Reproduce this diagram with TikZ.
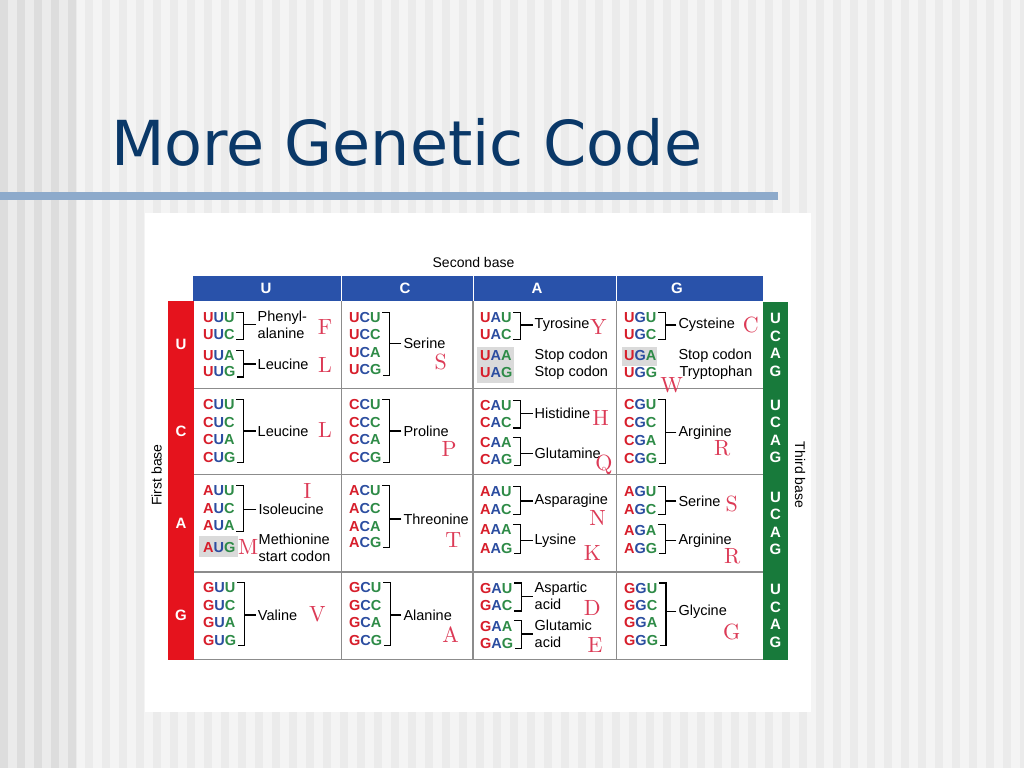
\documentclass[tikz,border=0pt]{standalone}
\usepackage{fontspec}
\setsansfont{Liberation Sans}
\newfontfamily\titlefont{DejaVu Sans}
\newfontfamily\letfont{lmroman10-regular}[Extension=.otf]
\definecolor{bgbase}{HTML}{F4F4F4}
\definecolor{bgstripe}{HTML}{EBEBEB}
\definecolor{bgleft}{HTML}{EBEBEB}
\definecolor{bgdark}{HTML}{DDDDDD}
\definecolor{titleblue}{HTML}{0A3868}
\definecolor{rulebar}{HTML}{8DAACB}
\definecolor{hdrblue}{HTML}{2952AA}
\definecolor{barred}{HTML}{E5131D}
\definecolor{bargreen}{HTML}{187A3B}
\definecolor{gridgray}{HTML}{8C8C8C}
\definecolor{shadegray}{HTML}{DADADA}
\definecolor{cred}{HTML}{D71E2B}
\definecolor{cblue}{HTML}{2B4DA0}
\definecolor{cgreen}{HTML}{2E8B47}
\definecolor{letred}{HTML}{DC3A56}
\newcommand\codontxt[3]{\textcolor{cred}{#1}\textcolor{cblue}{#2}\textcolor{cgreen}{#3}}
\newcommand\aabrace[3]{%
  \draw[bracket] ([xshift=1.5pt]#1.north east) -- ++(7,0) coordinate (#3-b) |- ([xshift=1.5pt]#2.south east);
  \draw[bracket] ([xshift=-2pt]#3.west) -- (#3.west -| #3-b);}
\begin{document}
\begin{tikzpicture}[x=1pt,y=-1pt,
  codon/.style={anchor=west,inner sep=0pt,font=\fontsize{14.5}{17}\selectfont\sffamily\bfseries},
  amino/.style={anchor=west,inner sep=0pt,align=left,font=\fontsize{14.5}{17}\selectfont\sffamily},
  oneletter/.style={text=letred,inner sep=0pt,font=\letfont\fontsize{22}{22}\selectfont},
  bracket/.style={black,line width=1.2pt},
  gridline/.style={draw=gridgray,line width=1.1pt},
  barletter/.style={text=white,inner sep=0pt,font=\fontsize{15}{15}\selectfont\sffamily\bfseries},
  axislabel/.style={inner sep=0pt,font=\fontsize{14}{14}\selectfont\sffamily},
  stopshade/.style={fill=shadegray}]
  \useasboundingbox (0,0) rectangle (1024,768);
  % slide background
  \fill[bgbase] (0,0) rectangle (1024,768);
  \fill[bgleft] (0,0) rectangle (77,768);
  \foreach \s in {0,17,...,68} \fill[bgdark] (\s,0) rectangle ++(8,768);
  \foreach \s in {85,102,...,1020} \fill[bgstripe] (\s,0) rectangle ++(8,768);
  \node[anchor=base west,text=titleblue,inner sep=0pt,font=\titlefont\fontsize{62}{62}\selectfont] (title) at (111,165) {More Genetic Code};
  \fill[rulebar] (0,192) rectangle (778,200);
  \fill[white] (145,213) rectangle (811,712);
  % frame of the table
  \fill[hdrblue] (193,276) rectangle (762.7,300.5);
  \draw[white,line width=0.8pt] (341.7,276) -- (341.7,300.5);
  \draw[white,line width=0.8pt] (473,276) -- (473,300.5);
  \draw[white,line width=0.8pt] (616.7,276) -- (616.7,300.5);
  \fill[barred] (167.5,301) rectangle (194,659.5);
  \fill[bargreen] (762.7,301.5) rectangle (788.3,659.5);
  \draw[gridline] (194,388.5) -- (762.7,388.5);
  \draw[gridline] (194,474.5) -- (762.7,474.5);
  \draw[gridline] (194,572) -- (762.7,572);
  \draw[gridline] (194,659.5) -- (762.7,659.5);
  \draw[gridline] (341.7,301) -- (341.7,659.5);
  \draw[gridline] (473,301) -- (473,659.5);
  \draw[gridline] (616.7,301) -- (616.7,659.5);
  \node[axislabel] (second) at (473.5,262) {Second base};
  \node[axislabel,rotate=90] (first) at (156.5,475) {First base};
  \node[axislabel,rotate=-90] (third) at (800,475) {Third base};
  \node[barletter] (hU) at (266,288.2) {U};
  \node[barletter] (hC) at (405,288.2) {C};
  \node[barletter] (hA) at (537,288.2) {A};
  \node[barletter] (hG) at (677,288.2) {G};
  \node[barletter] (fU) at (181,344.75) {U};
  \node[barletter] (fC) at (181,431.5) {C};
  \node[barletter] (fA) at (181,523.25) {A};
  \node[barletter] (fG) at (181,615.75) {G};
  \foreach \rowl/\m in {U/344.75,C/431.5,A/523.25,G/615.75}
    \foreach \tb [count=\i] in {U,C,A,G}
      \node[barletter] (t\rowl\tb) at (775.5,\m-43.75+17.5*\i) {\tb};
  % row U
  \node[codon] (cUUU) at (203,317.7) {\codontxt UUU};
  \node[codon] (cUUC) at (203,334.3) {\codontxt UUC};
  \node[codon] (cUUA) at (203,356) {\codontxt UUA};
  \node[codon] (cUUG) at (203,371.7) {\codontxt UUG};
  \node[amino] (aPhe) at (257.5,324.5) {Phenyl-\\alanine};
  \node[amino] (aLeuA) at (257.5,364) {Leucine};
  \aabrace{cUUU}{cUUC}{aPhe}
  \aabrace{cUUA}{cUUG}{aLeuA}
  \node[oneletter] (lF) at (325,326.7) {F};
  \node[oneletter] (lLA) at (325,365) {L};
  \node[codon] (cUCU) at (349,317.7) {\codontxt UCU};
  \node[codon] (cUCC) at (349,335) {\codontxt UCC};
  \node[codon] (cUCA) at (349,352.7) {\codontxt UCA};
  \node[codon] (cUCG) at (349,370) {\codontxt UCG};
  \node[amino] (aSerA) at (403.3,343.3) {Serine};
  \aabrace{cUCU}{cUCG}{aSerA}
  \node[oneletter] (lSA) at (440.7,362.3) {S};
  \fill[stopshade] (477.3,347.3) rectangle (514.3,382.7);
  \node[codon] (cUAU) at (480,317.7) {\codontxt UAU};
  \node[codon] (cUAC) at (480,334.3) {\codontxt UAC};
  \node[codon] (cUAA) at (480,356) {\codontxt UAA};
  \node[codon] (cUAG) at (480,372.3) {\codontxt UAG};
  \node[amino] (aTyr) at (534.5,325) {Tyrosine};
  \aabrace{cUAU}{cUAC}{aTyr}
  \node[amino] (aStopA) at (534.5,356) {Stop codon};
  \node[amino] (aStopB) at (534.5,372.3) {Stop codon};
  \node[oneletter] (lY) at (598.3,326.7) {Y};
  \fill[stopshade] (621.7,347.3) rectangle (657.3,366.3);
  \node[codon] (cUGU) at (624,317.7) {\codontxt UGU};
  \node[codon] (cUGC) at (624,334.3) {\codontxt UGC};
  \node[codon] (cUGA) at (624,356) {\codontxt UGA};
  \node[codon] (cUGG) at (624,372.3) {\codontxt UGG};
  \node[amino] (aCys) at (678.3,325) {Cysteine};
  \aabrace{cUGU}{cUGC}{aCys}
  \node[amino] (aStopC) at (678.3,356) {Stop codon};
  \node[amino] (aTrp) at (679.3,372.3) {Tryptophan};
  \node[oneletter] (lC) at (750.7,325) {C};
  \node[oneletter] (lW) at (671.7,385) {W};
  % row C
  \node[codon] (cCUU) at (203,405) {\codontxt CUU};
  \node[codon] (cCUC) at (203,422.5) {\codontxt CUC};
  \node[codon] (cCUA) at (203,440) {\codontxt CUA};
  \node[codon] (cCUG) at (203,457.5) {\codontxt CUG};
  \node[amino] (aLeuB) at (257.5,431) {Leucine};
  \aabrace{cCUU}{cCUG}{aLeuB}
  \node[oneletter] (lLB) at (325,430) {L};
  \node[codon] (cCCU) at (349,405) {\codontxt CCU};
  \node[codon] (cCCC) at (349,422.5) {\codontxt CCC};
  \node[codon] (cCCA) at (349,440) {\codontxt CCA};
  \node[codon] (cCCG) at (349,457.5) {\codontxt CCG};
  \node[amino] (aPro) at (403.3,431) {Proline};
  \aabrace{cCCU}{cCCG}{aPro}
  \node[oneletter] (lP) at (449,449) {P};
  \node[codon] (cCAU) at (480,406) {\codontxt CAU};
  \node[codon] (cCAC) at (480,422.7) {\codontxt CAC};
  \node[codon] (cCAA) at (480,442.7) {\codontxt CAA};
  \node[codon] (cCAG) at (480,460) {\codontxt CAG};
  \node[amino] (aHis) at (534.5,413.3) {Histidine};
  \node[amino] (aGln) at (534.5,453.3) {Glutamine};
  \aabrace{cCAU}{cCAC}{aHis}
  \aabrace{cCAA}{cCAG}{aGln}
  \node[oneletter] (lH) at (600.7,418.3) {H};
  \node[oneletter] (lQ) at (604,465) {Q};
  \node[codon] (cCGU) at (624,405) {\codontxt CGU};
  \node[codon] (cCGC) at (624,422.7) {\codontxt CGC};
  \node[codon] (cCGA) at (624,440.7) {\codontxt CGA};
  \node[codon] (cCGG) at (624,458.3) {\codontxt CGG};
  \node[amino] (aArgA) at (678.3,432.7) {Arginine};
  \aabrace{cCGU}{cCGG}{aArgA}
  \node[oneletter] (lRA) at (722.3,448.3) {R};
  % row A
  \fill[stopshade] (199.3,536) rectangle (237.5,557);
  \node[codon] (cAUU) at (203,490.7) {\codontxt AUU};
  \node[codon] (cAUC) at (203,509) {\codontxt AUC};
  \node[codon] (cAUA) at (203,526) {\codontxt AUA};
  \node[codon] (cAUG) at (203,547.3) {\codontxt AUG};
  \node[amino] (aIle) at (258.3,509.3) {Isoleucine};
  \aabrace{cAUU}{cAUA}{aIle}
  \node[amino] (aMet) at (258.5,547.7) {Methionine\\start codon};
  \node[oneletter] (lI) at (307.3,490.7) {I};
  \node[oneletter] (lM) at (248.3,546.7) {M};
  \node[codon] (cACU) at (349,490.7) {\codontxt ACU};
  \node[codon] (cACC) at (349,509) {\codontxt ACC};
  \node[codon] (cACA) at (349,526) {\codontxt ACA};
  \node[codon] (cACG) at (349,542.3) {\codontxt ACG};
  \node[amino] (aThr) at (403.3,519) {Threonine};
  \aabrace{cACU}{cACG}{aThr}
  \node[oneletter] (lT) at (453.3,540) {T};
  \node[codon] (cAAU) at (480,491.7) {\codontxt AAU};
  \node[codon] (cAAC) at (480,509.3) {\codontxt AAC};
  \node[codon] (cAAA) at (480,530) {\codontxt AAA};
  \node[codon] (cAAG) at (480,548.3) {\codontxt AAG};
  \node[amino] (aAsn) at (534.5,501) {Asparagine};
  \node[amino] (aLys) at (534.5,540.7) {Lysine};
  \aabrace{cAAU}{cAAC}{aAsn}
  \aabrace{cAAA}{cAAG}{aLys}
  \node[oneletter] (lN) at (597.7,517.7) {N};
  \node[oneletter] (lK) at (592.3,553.3) {K};
  \node[codon] (cAGU) at (624,491.7) {\codontxt AGU};
  \node[codon] (cAGC) at (624,509.3) {\codontxt AGC};
  \node[codon] (cAGA) at (624,530) {\codontxt AGA};
  \node[codon] (cAGG) at (624,548.3) {\codontxt AGG};
  \node[amino] (aSerB) at (678.3,501) {Serine};
  \node[amino] (aArgB) at (678.3,540.7) {Arginine};
  \aabrace{cAGU}{cAGC}{aSerB}
  \aabrace{cAGA}{cAGG}{aArgB}
  \node[oneletter] (lSB) at (731.7,504) {S};
  \node[oneletter] (lRB) at (732.3,556) {R};
  % row G
  \node[codon] (cGUU) at (203,587.7) {\codontxt GUU};
  \node[codon] (cGUC) at (203,605) {\codontxt GUC};
  \node[codon] (cGUA) at (203,622.7) {\codontxt GUA};
  \node[codon] (cGUG) at (203,640) {\codontxt GUG};
  \node[amino] (aVal) at (257.7,615) {Valine};
  \aabrace{cGUU}{cGUG}{aVal}
  \node[oneletter] (lV) at (317.3,614.3) {V};
  \node[codon] (cGCU) at (349,587.7) {\codontxt GCU};
  \node[codon] (cGCC) at (349,605) {\codontxt GCC};
  \node[codon] (cGCA) at (349,622.7) {\codontxt GCA};
  \node[codon] (cGCG) at (349,640) {\codontxt GCG};
  \node[amino] (aAla) at (403.3,615) {Alanine};
  \aabrace{cGCU}{cGCG}{aAla}
  \node[oneletter] (lA) at (450.7,634.3) {A};
  \node[codon] (cGAU) at (480,588.3) {\codontxt GAU};
  \node[codon] (cGAC) at (480,605.7) {\codontxt GAC};
  \node[codon] (cGAA) at (480,626) {\codontxt GAA};
  \node[codon] (cGAG) at (480,643.3) {\codontxt GAG};
  \node[amino] (aAsp) at (534.5,596.2) {Aspartic\\acid};
  \node[amino] (aGlu) at (534.5,634) {Glutamic\\acid};
  \aabrace{cGAU}{cGAC}{aAsp}
  \aabrace{cGAA}{cGAG}{aGlu}
  \node[oneletter] (lD) at (592.3,608.3) {D};
  \node[oneletter] (lE) at (595,645) {E};
  \node[codon] (cGGU) at (624,588.3) {\codontxt GGU};
  \node[codon] (cGGC) at (624,605.7) {\codontxt GGC};
  \node[codon] (cGGA) at (624,622.7) {\codontxt GGA};
  \node[codon] (cGGG) at (624,640) {\codontxt GGG};
  \node[amino] (aGly) at (678.3,611.7) {Glycine};
  \aabrace{cGGU}{cGGG}{aGly}
  \node[oneletter] (lG) at (731.7,631.7) {G};
\end{tikzpicture}
\end{document}
